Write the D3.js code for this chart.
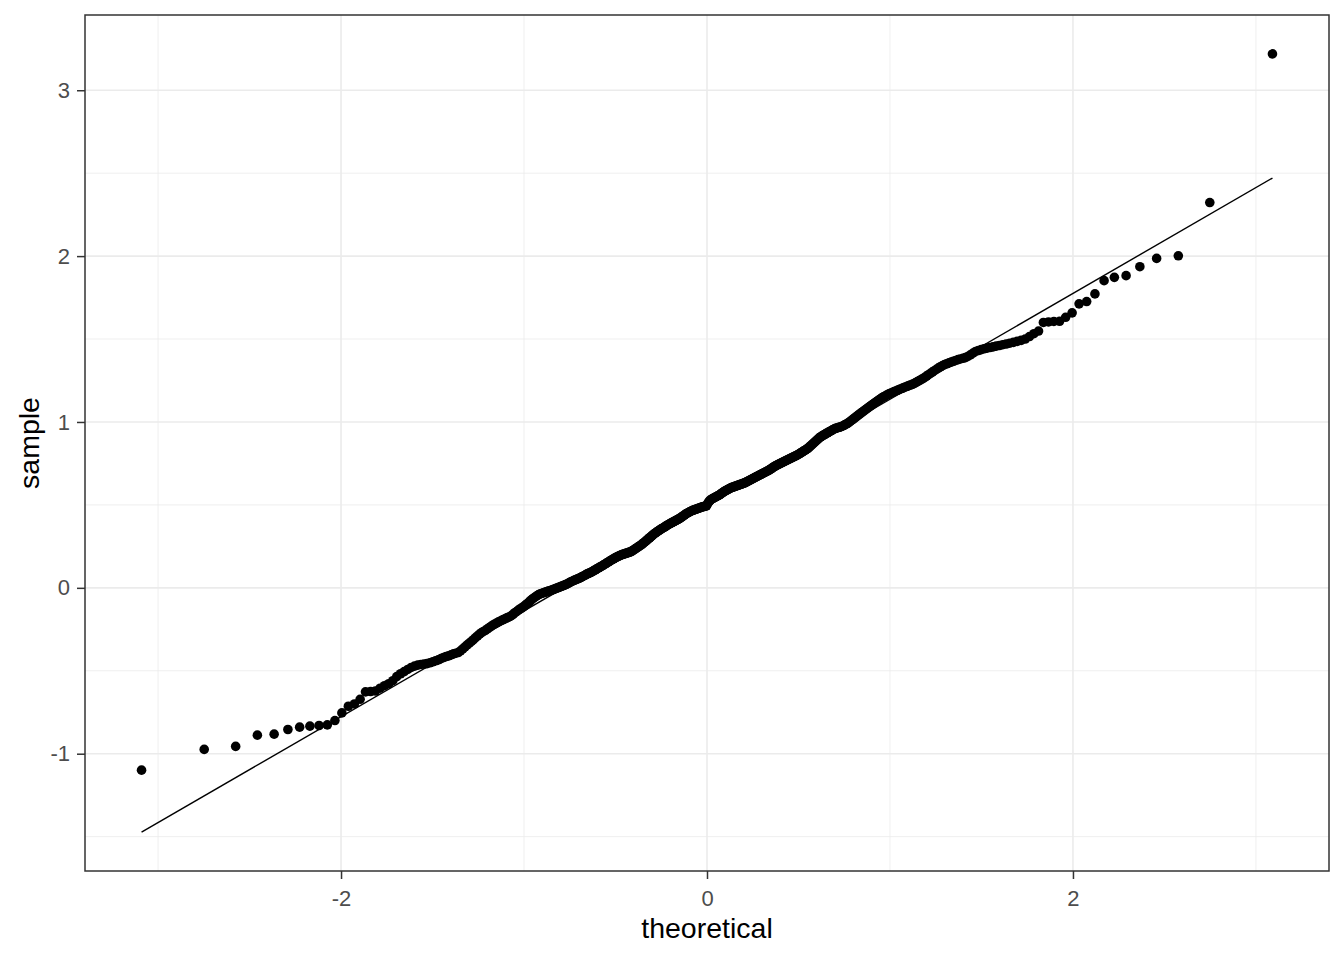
<!DOCTYPE html>
<html>
<head>
<meta charset="utf-8">
<script src="https://cdn.jsdelivr.net/npm/d3@7"></script>
<style>
  html, body { margin: 0; padding: 0; background: #fff; }
  svg { display: block; font-family: "Liberation Sans", Arial, sans-serif; }
</style>
</head>
<body>
<svg id="chart" width="1344" height="960"></svg>
<script>
// ---- data (sorted sample values) ----
const sampleValues = [
 -1.099,-0.974,-0.956,-0.888,-0.882,-0.854,-0.840,-0.834,-0.830,-0.826,
 -0.800,-0.754,-0.714,-0.700,-0.672,-0.627,-0.625,-0.622,-0.605,-0.590,
 -0.578,-0.560,-0.535,-0.518,-0.505,-0.492,-0.480,-0.472,-0.466,-0.462,
 -0.460,-0.457,-0.452,-0.446,-0.440,-0.434,-0.427,-0.420,-0.414,-0.410,
 -0.404,-0.398,-0.394,-0.390,-0.380,-0.368,-0.356,-0.344,-0.333,-0.323,
 -0.312,-0.300,-0.289,-0.279,-0.270,-0.263,-0.256,-0.248,-0.240,-0.232,
 -0.225,-0.219,-0.213,-0.207,-0.201,-0.196,-0.191,-0.186,-0.181,-0.177,
 -0.172,-0.166,-0.158,-0.150,-0.143,-0.136,-0.129,-0.123,-0.117,-0.110,
 -0.103,-0.095,-0.087,-0.079,-0.071,-0.064,-0.058,-0.052,-0.046,-0.041,
 -0.037,-0.034,-0.031,-0.028,-0.025,-0.022,-0.020,-0.018,-0.015,-0.012,
 -0.009,-0.006,-0.003,0.000,0.003,0.006,0.009,0.012,0.015,0.018,
 0.021,0.025,0.029,0.033,0.037,0.040,0.044,0.047,0.050,0.053,
 0.056,0.059,0.062,0.066,0.070,0.073,0.077,0.081,0.085,0.088,
 0.091,0.094,0.098,0.101,0.105,0.109,0.113,0.117,0.121,0.125,
 0.128,0.132,0.136,0.140,0.144,0.148,0.152,0.156,0.160,0.164,
 0.168,0.172,0.175,0.179,0.182,0.186,0.189,0.192,0.195,0.198,
 0.200,0.202,0.204,0.206,0.208,0.210,0.212,0.214,0.216,0.218,
 0.222,0.226,0.230,0.234,0.238,0.242,0.246,0.250,0.254,0.258,
 0.262,0.267,0.272,0.277,0.282,0.287,0.292,0.297,0.302,0.307,
 0.312,0.317,0.322,0.327,0.331,0.335,0.339,0.343,0.347,0.351,
 0.354,0.358,0.361,0.365,0.368,0.372,0.375,0.379,0.382,0.386,
 0.389,0.392,0.395,0.398,0.401,0.404,0.407,0.410,0.413,0.416,
 0.419,0.423,0.427,0.431,0.435,0.439,0.443,0.447,0.450,0.453,
 0.456,0.459,0.462,0.465,0.467,0.469,0.471,0.473,0.475,0.477,
 0.479,0.481,0.483,0.485,0.487,0.489,0.490,0.491,0.493,0.495,
 0.505,0.515,0.522,0.528,0.533,0.536,0.539,0.542,0.545,0.548,
 0.551,0.554,0.557,0.560,0.564,0.568,0.572,0.576,0.580,0.583,
 0.586,0.589,0.592,0.595,0.598,0.601,0.604,0.606,0.608,0.610,
 0.612,0.614,0.616,0.618,0.620,0.622,0.624,0.626,0.628,0.630,
 0.632,0.635,0.638,0.641,0.644,0.647,0.650,0.653,0.656,0.659,
 0.662,0.665,0.668,0.671,0.674,0.677,0.680,0.683,0.686,0.689,
 0.692,0.695,0.698,0.701,0.704,0.707,0.710,0.714,0.718,0.722,
 0.726,0.730,0.734,0.737,0.740,0.743,0.746,0.749,0.752,0.755,
 0.758,0.761,0.764,0.767,0.770,0.773,0.776,0.779,0.782,0.785,
 0.788,0.791,0.794,0.797,0.800,0.804,0.808,0.812,0.816,0.820,
 0.824,0.828,0.832,0.836,0.840,0.846,0.852,0.858,0.864,0.870,
 0.876,0.882,0.888,0.894,0.900,0.906,0.911,0.915,0.919,0.923,
 0.927,0.931,0.935,0.939,0.943,0.947,0.951,0.955,0.959,0.962,
 0.964,0.966,0.968,0.970,0.973,0.976,0.980,0.984,0.988,0.992,
 0.997,1.003,1.009,1.015,1.021,1.027,1.033,1.039,1.045,1.051,
 1.057,1.063,1.069,1.075,1.081,1.087,1.093,1.099,1.105,1.111,
 1.117,1.123,1.129,1.135,1.141,1.147,1.152,1.157,1.162,1.167,
 1.171,1.175,1.179,1.183,1.187,1.191,1.195,1.199,1.203,1.207,
 1.211,1.215,1.219,1.223,1.227,1.231,1.237,1.243,1.249,1.255,
 1.262,1.269,1.277,1.285,1.293,1.301,1.309,1.317,1.325,1.333,
 1.340,1.346,1.351,1.356,1.361,1.366,1.371,1.376,1.380,1.384,
 1.388,1.395,1.405,1.415,1.425,1.431,1.436,1.441,1.445,1.449,
 1.453,1.457,1.461,1.466,1.470,1.475,1.480,1.486,1.492,1.500,
 1.515,1.532,1.548,1.600,1.603,1.606,1.607,1.631,1.658,1.712,
 1.726,1.772,1.852,1.872,1.882,1.936,1.986,2.002,2.323,3.219
];
const qqLineIntercept = 0.499;
const qqLineSlope = 0.638;
const xTicks = [-2, 0, 2];
const xMinorTicks = [-3, -1, 1, 3];
const yTicks = [-1, 0, 1, 2, 3];
const yMinorTicks = [-1.5, -0.5, 0.5, 1.5, 2.5];
const xTitle = "theoretical";
const yTitle = "sample";

// ---- stat: theoretical normal quantiles (ppoints) ----
function qnorm(p) {
  const a = [-3.969683028665376e+01, 2.209460984245205e+02, -2.759285104469687e+02, 1.383577518672690e+02, -3.066479806614716e+01, 2.506628277459239e+00];
  const b = [-5.447609879822406e+01, 1.615858368580409e+02, -1.556989798598866e+02, 6.680131188771972e+01, -1.328068155288572e+01];
  const c = [-7.784894002430293e-03, -3.223964580411365e-01, -2.400758277161838e+00, -2.549732539343734e+00, 4.374664141464968e+00, 2.938163982698783e+00];
  const d = [7.784695709041462e-03, 3.224671290700398e-01, 2.445134137142996e+00, 3.754408661907416e+00];
  const pl = 0.02425, ph = 1 - pl;
  let q, r;
  if (p < pl) { q = Math.sqrt(-2 * Math.log(p)); return (((((c[0]*q+c[1])*q+c[2])*q+c[3])*q+c[4])*q+c[5]) / ((((d[0]*q+d[1])*q+d[2])*q+d[3])*q+1); }
  if (p > ph) { q = Math.sqrt(-2 * Math.log(1 - p)); return -(((((c[0]*q+c[1])*q+c[2])*q+c[3])*q+c[4])*q+c[5]) / ((((d[0]*q+d[1])*q+d[2])*q+d[3])*q+1); }
  q = p - 0.5; r = q * q;
  return (((((a[0]*r+a[1])*r+a[2])*r+a[3])*r+a[4])*r+a[5])*q / (((((b[0]*r+b[1])*r+b[2])*r+b[3])*r+b[4])*r+1);
}
const n = sampleValues.length;
const points = sampleValues.map((s, i) => ({ x: qnorm((i + 0.5) / n), y: s }));
const xExt = d3.extent(points, d => d.x);
const lineData = xExt.map(x => ({ x, y: qqLineIntercept + qqLineSlope * x }));

// ---- layout ----
const panel = { left: 85, right: 1329, top: 15, bottom: 871 };
const svg = d3.select("#chart");
const FONT = '"Liberation Sans", Arial, sans-serif';

const xSpan = xExt[1] - xExt[0];
const x = d3.scaleLinear().domain([xExt[0] - 0.05 * xSpan, xExt[1] + 0.05 * xSpan]).range([panel.left, panel.right]);
const yAll = points.map(d => d.y).concat(lineData.map(d => d.y));
const yExt = d3.extent(yAll);
const ySpan = yExt[1] - yExt[0];
const y = d3.scaleLinear().domain([yExt[0] - 0.05 * ySpan, yExt[1] + 0.05 * ySpan]).range([panel.bottom, panel.top]);

// panel background
svg.append("rect").attr("x", panel.left).attr("y", panel.top)
  .attr("width", panel.right - panel.left).attr("height", panel.bottom - panel.top).attr("fill", "#fff");

const grid = svg.append("g");
grid.selectAll(".xminor").data(xMinorTicks).join("line")
  .attr("x1", d => x(d)).attr("x2", d => x(d)).attr("y1", panel.top).attr("y2", panel.bottom)
  .attr("stroke", "#EBEBEB").attr("stroke-width", 0.8);
grid.selectAll(".yminor").data(yMinorTicks).join("line")
  .attr("y1", d => y(d)).attr("y2", d => y(d)).attr("x1", panel.left).attr("x2", panel.right)
  .attr("stroke", "#EBEBEB").attr("stroke-width", 0.8);
grid.selectAll(".xmajor").data(xTicks).join("line")
  .attr("x1", d => x(d)).attr("x2", d => x(d)).attr("y1", panel.top).attr("y2", panel.bottom)
  .attr("stroke", "#EBEBEB").attr("stroke-width", 1.6);
grid.selectAll(".ymajor").data(yTicks).join("line")
  .attr("y1", d => y(d)).attr("y2", d => y(d)).attr("x1", panel.left).attr("x2", panel.right)
  .attr("stroke", "#EBEBEB").attr("stroke-width", 1.6);

// points
svg.append("g").selectAll("circle").data(points).join("circle")
  .attr("cx", d => x(d.x)).attr("cy", d => y(d.y)).attr("r", 4.8).attr("fill", "#000");

// qq line
svg.append("path").datum(lineData)
  .attr("d", d3.line().x(d => x(d.x)).y(d => y(d.y)))
  .attr("stroke", "#000").attr("stroke-width", 1.4).attr("fill", "none");

// panel border
svg.append("rect").attr("x", panel.left).attr("y", panel.top)
  .attr("width", panel.right - panel.left).attr("height", panel.bottom - panel.top)
  .attr("fill", "none").attr("stroke", "#333333").attr("stroke-width", 1.5);

// axes
const fmt = d => String(d);
const xAxis = svg.append("g").attr("transform", `translate(0,${panel.bottom})`)
  .call(d3.axisBottom(x).tickValues(xTicks).tickSize(8).tickPadding(11).tickFormat(fmt));
const yAxis = svg.append("g").attr("transform", `translate(${panel.left},0)`)
  .call(d3.axisLeft(y).tickValues(yTicks).tickSize(8).tickPadding(7).tickFormat(fmt));
[xAxis, yAxis].forEach(g => {
  g.select(".domain").remove();
  g.selectAll(".tick line").attr("stroke", "#333333").attr("stroke-width", 1.5);
  g.selectAll(".tick text").attr("fill", "#4D4D4D").style("font-size", "22px").style("font-family", FONT);
});

// titles
svg.append("text").attr("x", (panel.left + panel.right) / 2).attr("y", 938)
  .attr("text-anchor", "middle").style("font-size", "28.5px").style("font-family", FONT)
  .attr("fill", "#000").text(xTitle);
svg.append("text").attr("transform", `translate(39,${(panel.top + panel.bottom) / 2}) rotate(-90)`)
  .attr("text-anchor", "middle").style("font-size", "28.5px").style("font-family", FONT)
  .attr("fill", "#000").text(yTitle);
</script>
</body>
</html>
